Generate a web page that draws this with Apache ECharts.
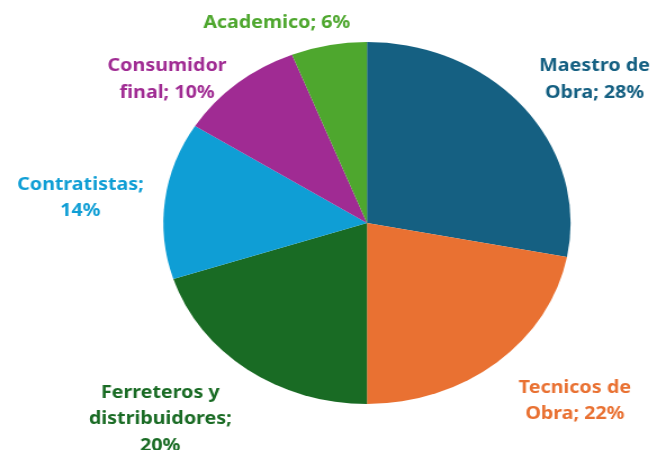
<!DOCTYPE html>
<html>
<head>
<meta charset="utf-8">
<script src="https://cdn.jsdelivr.net/npm/echarts@6/dist/echarts.min.js"></script>
<style>
  html, body { margin: 0; padding: 0; background: #ffffff; overflow: hidden; }
  #wrap { width: 659px; height: 450px; overflow: hidden; }
  /* the pie is drawn slightly wider than tall */
  #chart { width: 585.8px; height: 450px; transform-origin: 0 0; transform: scaleX(1.125); }
</style>
</head>
<body>
<div id="wrap"><div id="chart"></div></div>
<script>
// Share of buyers by segment (%)
const categories = [
  'Maestro de Obra',
  'Tecnicos de Obra',
  'Ferreteros y distribuidores',
  'Contratistas',
  'Consumidor final',
  'Academico'
];
const shares = [28, 22, 20, 14, 10, 6];
// Label text split into lines as it is printed
const labelLines = [
  ['Maestro de', 'Obra; 28%'],
  ['Tecnicos de', 'Obra; 22%'],
  ['Ferreteros y', 'distribuidores;', '20%'],
  ['Contratistas;', '14%'],
  ['Consumidor', 'final; 10%'],
  ['Academico; 6%']
];
const colors = ['#156082', '#E97132', '#196B24', '#0F9ED5', '#A02B93', '#4EA72E'];
// Label anchor points (centre of each text block, in chart pixels)
const labelAnchors = [
  [528.5, 79.5], [511, 401], [142.5, 419.5], [71.5, 198], [148.5, 79.5], [246, 23]
];

const chart = echarts.init(document.getElementById('chart'), null, { renderer: 'canvas' });
chart.setOption({
  animation: false,
  backgroundColor: '#ffffff',
  series: [{
    type: 'pie',
    center: [326.2, 223],
    radius: [0, 181],
    startAngle: 90,
    clockwise: true,
    data: categories.map((name, i) => ({
      name,
      value: shares[i],
      itemStyle: { color: colors[i] },
      label: { color: colors[i], formatter: labelLines[i].join('\n') }
    })),
    itemStyle: { borderWidth: 0 },
    label: {
      show: true,
      position: 'outside',
      overflow: 'none',
      width: 300,
      fontFamily: 'Noto Sans',
      fontWeight: 'bold',
      fontSize: 17.5,
      lineHeight: 26.5,
      align: 'center'
    },
    labelLine: { show: false },
    labelLayout: function (params) {
      const p = labelAnchors[params.dataIndex];
      return { x: p[0], y: p[1], align: 'center', verticalAlign: 'middle' };
    }
  }]
});
</script>
</body>
</html>
